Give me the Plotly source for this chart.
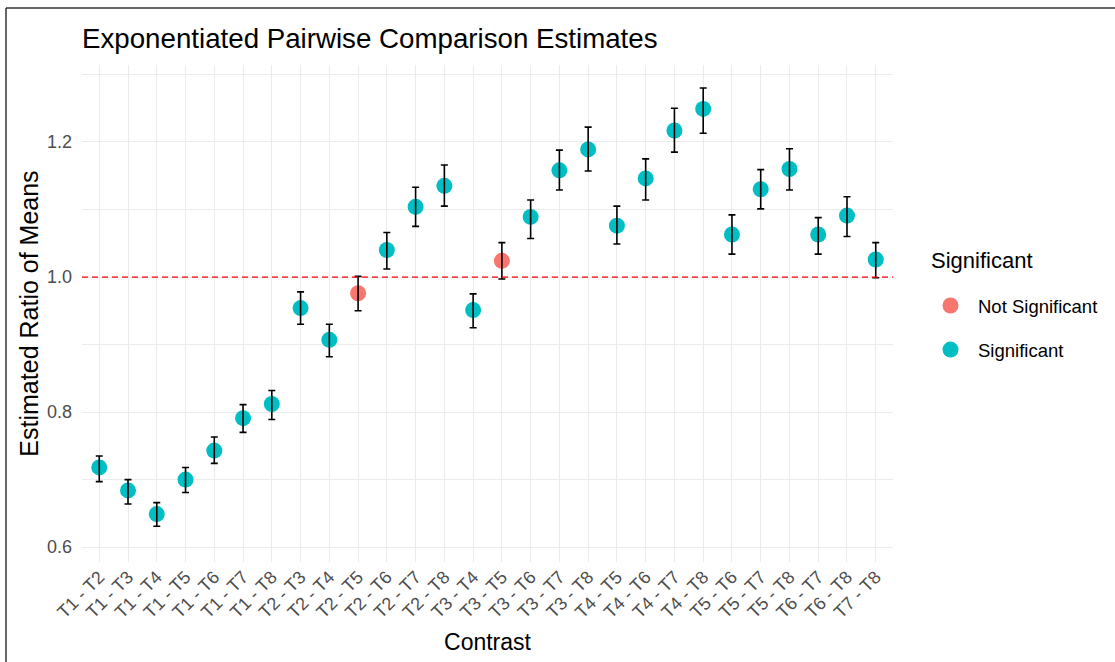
import plotly.graph_objects as go

contrasts = ["T1 - T2", "T1 - T3", "T1 - T4", "T1 - T5", "T1 - T6", "T1 - T7", "T1 - T8",
             "T2 - T3", "T2 - T4", "T2 - T5", "T2 - T6", "T2 - T7", "T2 - T8",
             "T3 - T4", "T3 - T5", "T3 - T6", "T3 - T7", "T3 - T8",
             "T4 - T5", "T4 - T6", "T4 - T7", "T4 - T8",
             "T5 - T6", "T5 - T7", "T5 - T8",
             "T6 - T7", "T6 - T8",
             "T7 - T8"]
estimate = [0.718, 0.684, 0.649, 0.700, 0.743, 0.791, 0.812,
            0.954, 0.907, 0.976, 1.040, 1.104, 1.135,
            0.951, 1.024, 1.089, 1.158, 1.189,
            1.076, 1.146, 1.217, 1.249,
            1.063, 1.130, 1.160,
            1.063, 1.091,
            1.026]
upper = [0.735, 0.700, 0.666, 0.718, 0.763, 0.811, 0.832,
         0.978, 0.930, 1.001, 1.066, 1.133, 1.166,
         0.975, 1.051, 1.114, 1.188, 1.222,
         1.105, 1.175, 1.250, 1.280,
         1.092, 1.159, 1.190,
         1.088, 1.119,
         1.051]
lower = [0.697, 0.664, 0.631, 0.681, 0.724, 0.770, 0.789,
         0.930, 0.882, 0.950, 1.012, 1.075, 1.105,
         0.925, 0.997, 1.057, 1.129, 1.157,
         1.049, 1.114, 1.185, 1.213,
         1.034, 1.101, 1.129,
         1.034, 1.060,
         0.999]
significant = ["Significant"] * 28
significant[9] = "Not Significant"
significant[14] = "Not Significant"

groups = ["Not Significant", "Significant"]
colors = {"Not Significant": "#F8766D", "Significant": "#00BFC4"}

W, H = 1115, 662
ML, MR, MT, MB = 82, 222, 65, 100
PW, PH = W - ML - MR, H - MT - MB


def px_x(px):
    return (px - ML) / PW


def px_y(py):
    return (H - MB - py) / PH


fig = go.Figure()
for i, g in enumerate(groups):
    idx = [k for k, s in enumerate(significant) if s == g]
    fig.add_trace(go.Scatter(
        x=[contrasts[k] for k in idx],
        y=[estimate[k] for k in idx],
        mode="markers",
        name=g,
        legendgroup=g,
        marker=dict(color=colors[g], size=16, line=dict(width=0)),
    ))

fig.add_trace(go.Scatter(
    x=contrasts, y=estimate, mode="markers", showlegend=False,
    marker=dict(size=1, color="rgba(0,0,0,0)"),
    error_y=dict(type="data", symmetric=False,
                 array=[u - e for u, e in zip(upper, estimate)],
                 arrayminus=[e - l for e, l in zip(estimate, lower)],
                 color="black", thickness=1.6, width=3.5),
    hoverinfo="skip",
))

fig.add_shape(type="line", xref="paper", yref="y", x0=0, x1=1, y0=1.0, y1=1.0,
              line=dict(color="#FF0000", width=1.3, dash="6px,4px"), layer="above")

# image frame (top and left edges)
fig.add_shape(type="line", xref="paper", yref="paper", x0=px_x(6), x1=px_x(1116),
              y0=px_y(8), y1=px_y(8), line=dict(color="#333333", width=1.5))
fig.add_shape(type="line", xref="paper", yref="paper", x0=px_x(6), x1=px_x(6),
              y0=px_y(8), y1=px_y(663), line=dict(color="#333333", width=1.5))

# legend title
fig.add_annotation(text="Significant", xref="paper", yref="paper",
                   x=px_x(929), y=px_y(260), xanchor="left", yanchor="middle",
                   showarrow=False, font=dict(size=22, color="black"))

font_family = "Liberation Sans, Arial, sans-serif"

fig.update_layout(
    width=W, height=H,
    margin=dict(l=ML, r=MR, t=MT, b=MB, pad=0),
    paper_bgcolor="white", plot_bgcolor="white",
    font=dict(family=font_family, color="black"),
    title=dict(text="Exponentiated Pairwise Comparison Estimates",
               x=px_x(82), xref="paper", xanchor="left",
               y=1 - 38 / H, yanchor="middle",
               font=dict(size=27.7, color="black")),
    showlegend=True,
    legend=dict(
        font=dict(size=18.5, color="black"),
        x=px_x(923), xanchor="left",
        y=px_y(287), yanchor="top",
        traceorder="grouped", tracegroupgap=17,
        itemsizing="trace", itemwidth=45,
        bgcolor="rgba(0,0,0,0)",
    ),
    xaxis=dict(
        type="category",
        categoryorder="array", categoryarray=contrasts,
        range=[-0.6, 27.6],
        showgrid=True, gridcolor="#EBEBEB", gridwidth=1.1,
        showline=False, zeroline=False, ticks="",
        tickangle=-45,
        tickfont=dict(size=18, color="#4D4D4D"),
        title=dict(text="Contrast", font=dict(size=23, color="black"), standoff=12),
    ),
    yaxis=dict(
        range=[0.578, 1.314],
        tickvals=[0.6, 0.8, 1.0, 1.2],
        ticktext=["0.6", "0.8", "1.0", "1.2"],
        showgrid=True, gridcolor="#EBEBEB", gridwidth=1.1,
        minor=dict(dtick=0.1, tick0=0.5, showgrid=True, gridcolor="#EBEBEB", gridwidth=0.6),
        showline=False, zeroline=False, ticks="",
        ticklabelstandoff=9,
        tickfont=dict(size=18, color="#4D4D4D"),
        title=dict(text="Estimated Ratio of Means", font=dict(size=25, color="black"), standoff=1),
    ),
)

fig.write_html("out.html")
